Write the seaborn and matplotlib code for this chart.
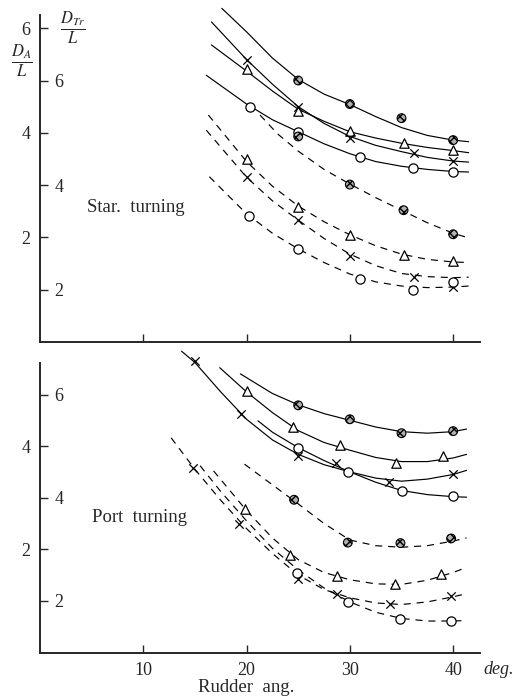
import matplotlib
matplotlib.use("Agg")
import matplotlib.pyplot as plt
import seaborn as sns
import pandas as pd

# ---------------- data ----------------
# Star. turning : D_A/L (solid curves, outer scale)
star_da_hatch_cx = [17.6, 20, 22.5, 25, 27.5, 30, 32.5, 35, 37.5, 40, 41.5]
star_da_hatch_cy = [6.38, 5.93, 5.43, 5.02, 4.74, 4.54, 4.31, 4.10, 3.95, 3.86, 3.83]
star_da_cross_cx = [16.6, 20, 22.5, 25, 27.5, 30, 32.5, 35, 37.5, 40, 41.5]
star_da_cross_cy = [6.12, 5.40, 4.93, 4.50, 4.18, 3.93, 3.76, 3.64, 3.53, 3.46, 3.44]
star_da_tri_cx = [16.6, 20, 22.5, 25, 27.5, 30, 32.5, 35, 37.5, 40, 41.5]
star_da_tri_cy = [5.68, 5.18, 4.80, 4.45, 4.22, 4.02, 3.90, 3.80, 3.72, 3.66, 3.62]
star_da_circ_cx = [16.1, 20, 22.5, 25, 27.5, 30, 32.5, 35, 37.5, 40, 41.5]
star_da_circ_cy = [5.10, 4.55, 4.25, 4.02, 3.79, 3.60, 3.45, 3.36, 3.30, 3.26, 3.25]

star_da_hatch_x = [25, 30, 35, 40]
star_da_hatch_y = [5.00, 4.55, 4.28, 3.86]
star_da_tri_x = [20, 25, 30, 35.2, 40]
star_da_tri_y = [5.22, 4.42, 4.04, 3.81, 3.67]
star_da_cross_x = [20, 25, 30, 36.2, 40]
star_da_cross_y = [5.40, 4.50, 3.91, 3.61, 3.46]
star_da_circ_x = [20.3, 25, 31, 36.1, 40]
star_da_circ_y = [4.50, 4.02, 3.53, 3.33, 3.26]

# Star. turning : D_Tr/L (dashed curves, inner scale)
star_dt_hatch_cx = [21.3, 23, 25, 27.5, 30, 32.5, 35, 37.5, 40, 41.5]
star_dt_hatch_cy = [5.34, 4.98, 4.65, 4.30, 4.02, 3.76, 3.52, 3.28, 3.08, 2.99]
star_dt_tri_cx = [16.3, 20, 22.5, 25, 27.5, 30, 32.5, 35, 37.5, 40, 41.5]
star_dt_tri_cy = [5.34, 4.45, 3.98, 3.60, 3.30, 3.05, 2.84, 2.68, 2.58, 2.53, 2.52]
star_dt_cross_cx = [16.1, 20, 22.5, 25, 27.5, 30, 32.5, 35, 37.5, 40, 41.5]
star_dt_cross_cy = [5.05, 4.15, 3.70, 3.33, 2.98, 2.68, 2.46, 2.31, 2.25, 2.23, 2.24]
star_dt_circ_cx = [16.4, 20, 22.5, 25, 27.5, 30, 32.5, 35, 37.5, 40, 41.5]
star_dt_circ_cy = [4.16, 3.45, 3.08, 2.78, 2.52, 2.30, 2.15, 2.07, 2.04, 2.05, 2.07]

star_dt_hatch_x = [25, 30, 35.2, 40]
star_dt_hatch_y = [4.93, 4.01, 3.52, 3.06]
star_dt_tri_x = [20, 25, 30, 35.2, 40]
star_dt_tri_y = [4.49, 3.59, 3.05, 2.66, 2.55]
star_dt_cross_x = [20, 25, 30, 36.2, 40]
star_dt_cross_y = [4.16, 3.33, 2.64, 2.25, 2.05]
star_dt_circ_x = [20.2, 25, 31, 36.1, 40]
star_dt_circ_y = [3.41, 2.77, 2.20, 1.99, 2.15]

# Port turning : D_A/L (solid curves, outer scale)
port_da_hatch_cx = [19.4, 22.5, 25, 27.5, 30, 32.5, 35, 37.5, 40, 41.3]
port_da_hatch_cy = [5.40, 5.02, 4.80, 4.63, 4.50, 4.37, 4.28, 4.25, 4.28, 4.33]
port_da_tri_cx = [17.4, 20, 22.5, 25, 27.5, 30, 32.5, 35, 37.5, 40, 41.3]
port_da_tri_cy = [5.52, 5.05, 4.65, 4.30, 4.07, 3.92, 3.78, 3.70, 3.70, 3.77, 3.84]
port_da_cross_cx = [13.7, 15, 17.5, 20, 22.5, 25, 27.5, 30, 32.5, 35, 37.5, 40, 41.3]
port_da_cross_cy = [5.84, 5.62, 5.05, 4.52, 4.12, 3.84, 3.64, 3.50, 3.38, 3.32, 3.36, 3.45, 3.53]
port_da_circ_cx = [21.1, 22.5, 25, 27.5, 30, 32.5, 35, 37.5, 40, 41.3]
port_da_circ_cy = [4.49, 4.27, 3.97, 3.72, 3.50, 3.30, 3.14, 3.06, 3.02, 3.01]

port_da_hatch_x = [25, 30, 35, 40]
port_da_hatch_y = [4.79, 4.52, 4.25, 4.29]
port_da_tri_x = [20, 24.5, 29, 34.5, 39]
port_da_tri_y = [5.07, 4.37, 4.02, 3.68, 3.81]
port_da_cross_x = [15, 19.5, 25, 28.7, 33.8, 40]
port_da_cross_y = [5.65, 4.62, 3.81, 3.67, 3.31, 3.46]
port_da_circ_x = [25, 29.8, 35, 40]
port_da_circ_y = [3.97, 3.50, 3.13, 3.04]

# Port turning : D_Tr/L (dashed curves, inner scale)
port_dt_hatch_cx = [19.8, 22.5, 25, 27.5, 30, 32.5, 35, 37.5, 40, 41.3]
port_dt_hatch_cy = [4.65, 4.25, 3.88, 3.50, 3.18, 3.07, 3.04, 3.07, 3.16, 3.22]
port_dt_tri_cx = [16.8, 20, 22.5, 25, 27.5, 30, 32.5, 35, 37.5, 40, 41.3]
port_dt_tri_cy = [4.52, 3.75, 3.22, 2.80, 2.55, 2.41, 2.33, 2.32, 2.40, 2.55, 2.65]
port_dt_cross_cx = [12.7, 15, 17.5, 20, 22.5, 25, 27.5, 30, 32.5, 35, 37.5, 40, 41.3]
port_dt_cross_cy = [5.16, 4.55, 3.95, 3.40, 2.92, 2.50, 2.22, 2.06, 1.96, 1.93, 1.98, 2.08, 2.14]
port_dt_circ_cx = [15.5, 17.5, 20, 22.5, 25, 27.5, 30, 32.5, 35, 37.5, 40, 41.3]
port_dt_circ_cy = [4.62, 4.12, 3.55, 3.02, 2.60, 2.25, 1.98, 1.78, 1.66, 1.61, 1.61, 1.62]

port_dt_hatch_x = [24.6, 29.8, 34.9, 39.8]
port_dt_hatch_y = [3.96, 3.13, 3.12, 3.21]
port_dt_tri_x = [19.8, 24.2, 28.8, 34.4, 38.8]
port_dt_tri_y = [3.78, 2.89, 2.49, 2.33, 2.52]
port_dt_cross_x = [14.8, 19.3, 25, 28.8, 33.9, 39.8]
port_dt_cross_y = [4.58, 3.49, 2.43, 2.14, 1.94, 2.10]
port_dt_circ_x = [24.9, 29.8, 34.9, 39.8]
port_dt_circ_y = [2.55, 1.97, 1.65, 1.62]

x_ticks = [10, 20, 30, 40]
da_ticks_star = [2, 4, 6]
da_ticks_port = [2, 4]
dt_ticks = [2, 4, 6]

# ---------------- style ----------------
sns.set_theme(style="ticks")
plt.rcParams["font.family"] = ["Liberation Serif", "DejaVu Serif"]
plt.rcParams["mathtext.fontset"] = "stix"

W, H = 515, 700
fig = plt.figure(figsize=(W / 100, H / 100), dpi=100)
fig.patch.set_facecolor("white")


def add_axes_px(left, top, right, bottom):
    return fig.add_axes([left / W, 1 - bottom / H, (right - left) / W, (bottom - top) / H])


DASH = (0, (6, 5))
TICKFS = 13
MK = {
    "hatch": dict(marker="o", s=40, facecolor="#b0b0b0", edgecolor="black", linewidth=0.8, hatch="xxxx"),
    "tri": dict(marker="^", s=46, facecolor="white", edgecolor="black", linewidth=0.9),
    "cross": dict(marker="x", s=36, color="black", linewidth=0.9),
    "circ": dict(marker="o", s=44, facecolor="white", edgecolor="black", linewidth=0.9),
}


def curve(ax, xs, ys, dashed):
    sns.lineplot(x=xs, y=ys, ax=ax, color="black", linewidth=0.85,
                 linestyle=DASH if dashed else "-", estimator=None, sort=False,
                 legend=False, clip_on=False)


def marks(ax, xs, ys, kind):
    sns.scatterplot(x=xs, y=ys, ax=ax, legend=False, zorder=4, clip_on=False, **MK[kind])


def panel(ax, ytop, spine_top, da_ticks, solid, dashed, show_xlabels):
    ax.set_facecolor("none")
    ax.set_xlim(0, 42.6)
    ax.set_ylim(0, ytop)
    for s in ("top", "right"):
        ax.spines[s].set_visible(False)
    ax.spines["left"].set_bounds(0, spine_top)
    ax.spines["left"].set_linewidth(1.4)
    ax.spines["bottom"].set_linewidth(1.4)
    ax.set_xticks(x_ticks)
    ax.set_yticks(da_ticks)
    ax.tick_params(axis="y", direction="in", length=6, width=1.0, pad=7, labelsize=TICKFS)
    ax.tick_params(axis="x", direction="in", length=6, width=1.0, pad=7, labelsize=TICKFS,
                   labelbottom=show_xlabels)
    ax2 = ax.twinx()
    ax2.set_ylim(1, ytop + 1)
    ax2.set_facecolor("none")
    for s in ax2.spines.values():
        s.set_visible(False)
    ax2.yaxis.tick_left()
    ax2.set_yticks(dt_ticks)
    ax2.tick_params(axis="y", direction="in", length=6, width=1.0, pad=-17, labelsize=TICKFS)
    for (cx, cy, mx, my, kind) in solid:
        curve(ax, cx, cy, False)
        marks(ax, mx, my, kind)
    for (cx, cy, mx, my, kind) in dashed:
        curve(ax2, cx, cy, True)
        marks(ax2, mx, my, kind)
    ax.set_xlabel("")
    ax.set_ylabel("")
    ax2.set_ylabel("")
    return ax2


# top panel: 52.3 px per unit, zero at y=342
ax_top = add_axes_px(40, 342 - 6.45 * 52.3, 480, 342)
panel(ax_top, 6.45, 6.25, da_ticks_star,
      [(star_da_hatch_cx, star_da_hatch_cy, star_da_hatch_x, star_da_hatch_y, "hatch"),
       (star_da_tri_cx, star_da_tri_cy, star_da_tri_x, star_da_tri_y, "tri"),
       (star_da_cross_cx, star_da_cross_cy, star_da_cross_x, star_da_cross_y, "cross"),
       (star_da_circ_cx, star_da_circ_cy, star_da_circ_x, star_da_circ_y, "circ")],
      [(star_dt_hatch_cx, star_dt_hatch_cy, star_dt_hatch_x, star_dt_hatch_y, "hatch"),
       (star_dt_tri_cx, star_dt_tri_cy, star_dt_tri_x, star_dt_tri_y, "tri"),
       (star_dt_cross_cx, star_dt_cross_cy, star_dt_cross_x, star_dt_cross_y, "cross"),
       (star_dt_circ_cx, star_dt_circ_cy, star_dt_circ_x, star_dt_circ_y, "circ")],
      False)

# bottom panel: 51.6 px per unit, zero at y=652.5
ax_bot = add_axes_px(40, 652.5 - 5.9 * 51.6, 480, 652.5)
panel(ax_bot, 5.9, 5.62, da_ticks_port,
      [(port_da_hatch_cx, port_da_hatch_cy, port_da_hatch_x, port_da_hatch_y, "hatch"),
       (port_da_tri_cx, port_da_tri_cy, port_da_tri_x, port_da_tri_y, "tri"),
       (port_da_cross_cx, port_da_cross_cy, port_da_cross_x, port_da_cross_y, "cross"),
       (port_da_circ_cx, port_da_circ_cy, port_da_circ_x, port_da_circ_y, "circ")],
      [(port_dt_hatch_cx, port_dt_hatch_cy, port_dt_hatch_x, port_dt_hatch_y, "hatch"),
       (port_dt_tri_cx, port_dt_tri_cy, port_dt_tri_x, port_dt_tri_y, "tri"),
       (port_dt_cross_cx, port_dt_cross_cy, port_dt_cross_x, port_dt_cross_y, "cross"),
       (port_dt_circ_cx, port_dt_circ_cy, port_dt_circ_x, port_dt_circ_y, "circ")],
      True)


def ftext(xp, yp, s, **kw):
    fig.text(xp / W, 1 - yp / H, s, **kw)


ftext(73, 28, r"$\frac{D_{Tr}}{L}$", ha="center", va="center", fontsize=17)
ftext(22, 61, r"$\frac{D_{A}}{L}$", ha="center", va="center", fontsize=17)
ftext(87, 208, "Star.  turning", ha="left", va="center", fontsize=13.5)
ftext(92, 518, "Port  turning", ha="left", va="center", fontsize=13.5)
ftext(246, 688, "Rudder  ang.", ha="center", va="center", fontsize=13.5)
ftext(483, 670, "deg.", ha="left", va="center", fontsize=13, style="italic")

fig.savefig("out.png", dpi=100, facecolor="white")
